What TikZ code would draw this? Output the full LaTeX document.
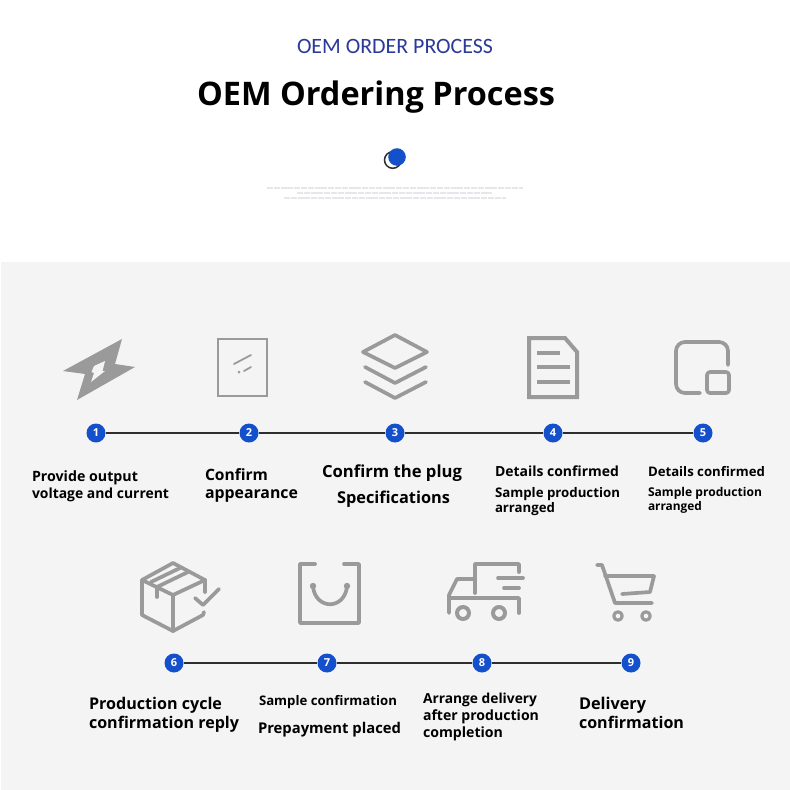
\documentclass[tikz,border=0pt]{standalone}
\usepackage{fontspec}
\setmainfont{Open Sans}
\newfontfamily\headfont{Carlito}
\newcommand{\lbl}[5]{\node[txtlbl] (#1) at (#2,#3) {\resizebox{#4pt}{!}{\textbf{#5}}};}
\tikzset{
  txtlbl/.style={anchor=base west,inner sep=0pt,outer sep=0pt,text=black},
  icon/.style={draw=icongray,line width=3.7pt,line join=round,line cap=round},
  num/.style={circle,fill=stepblue,minimum size=19pt,inner sep=0pt,text=white,font=\bfseries\fontsize{11}{11}\selectfont},
  link/.style={draw=linedark,line width=1.7pt},
  fine/.style={draw=finegray,line width=2.6pt,dash pattern=on 6pt off 0.8pt}
}
\definecolor{icongray}{HTML}{9A9A9A}
\definecolor{stepblue}{HTML}{1450CC}
\definecolor{linedark}{HTML}{2E2E2E}
\definecolor{panelgray}{HTML}{F4F4F4}
\definecolor{headblue}{HTML}{2B3A98}
\definecolor{finegray}{HTML}{E6E7EB}
\begin{document}
\begin{tikzpicture}[x=1pt,y=-1pt]
\useasboundingbox (0,0) rectangle (790,790);
\fill[white] (0,0) rectangle (790,790);
\fill[panelgray] (1,262) rectangle (790,790);
% header
\node[txtlbl,text=headblue] (head) at (297,53) {\resizebox{196pt}{!}{\headfont OEM ORDER PROCESS}};
\lbl{title}{197}{105}{358}{OEM Ordering Process}
\draw[linedark,line width=1.5pt] (392.8,160) circle (8.3);
\fill[stepblue] (397,157) circle (8.8);
\draw[fine] (267,188) -- (523,188);
\draw[fine] (297,193) -- (492,193);
\draw[fine] (284,198) -- (506,198);
% icon 1
\fill[icongray] (122,339) -- (115,364) -- (135,367) -- (77,400) -- (85,374) -- (63,371) -- cycle;
\fill[panelgray] (94,366) -- (105,361) -- (102.5,371) -- (105,371) -- (91,382) -- (94,373) -- (91.5,372) -- cycle;
% icon 2
\draw[icon,line cap=butt,line join=miter,line width=2.8pt] (218,339) rectangle (267,396);
\draw[icon,line width=1.8pt] (234,364) -- (251,355);
\draw[icon,line width=1.8pt] (244,371) -- (251,367);
\fill[icongray] (239,372) circle (1.5);
% icon 3
\draw[icon] (395,335) -- (427,352) -- (395,368) -- (363,352) -- cycle;
\draw[icon] (365,367) -- (395,383) -- (426,367);
\draw[icon] (365,382) -- (395,398) -- (426,382);
% icon 4
\draw[icon,line join=miter,line cap=butt,line width=4pt] (529,338) -- (565,338) -- (577,352) -- (577,397) -- (529,397) -- cycle;
\draw[icon,line cap=butt,line width=4.2pt] (537,353) -- (560,353);
\draw[icon,line cap=butt,line width=4.2pt] (537,367) -- (570,367);
\draw[icon,line cap=butt,line width=4.2pt] (537,382) -- (570,382);
% icon 5
\draw[icon,rounded corners=9pt] (728,365) -- (728,342) -- (676,342) -- (676,393) -- (700,393);
\draw[icon,rounded corners=3pt] (707,372) rectangle (729,393);
% icon 6
\draw[icon] (173,563) -- (205,580) -- (173,595) -- (142,580) -- cycle;
\draw[icon] (142,580) -- (142,615) -- (173,631) -- (203,615) -- (204,612);
\draw[icon] (173,595) -- (173,631);
\draw[icon] (205,580) -- (205,592);
\draw[icon] (157,587) -- (188,572);
\draw[icon] (151,582) -- (180,568);
\draw[icon] (157,587) -- (157,597);
\draw[icon] (195,598) -- (203,605) -- (219,589);
% icon 7
\draw[icon] (315,564) -- (300,564) -- (300,623) -- (359,623) -- (359,564) -- (344,564);
\draw[icon] (313,587) .. controls (316,610) and (344,610) .. (347,587);
\fill[icongray] (313,586) circle (3.2);
\fill[icongray] (347,586) circle (3.2);
% icon 8
\draw[icon] (475,593) -- (475,564) -- (519,564) -- (519,572);
\draw[icon] (475,579) -- (457,579) -- (449,595) -- (449,613);
\draw[icon] (449,598) -- (519,598) -- (519,613);
\draw[icon] (498,578) -- (523,578);
\draw[icon] (504,588) -- (519,588);
\draw[icon,line width=4pt,fill=panelgray] (463,613) circle (6);
\draw[icon,line width=4pt,fill=panelgray] (499,613) circle (6);
% icon 9
\draw[icon] (597,565) -- (602,565) -- (615,603) -- (652,603);
\draw[icon] (605,576) -- (654,576) -- (650,592) -- (622,594);
\draw[icon,line width=3.2pt] (618,616) circle (4.2);
\draw[icon,line width=3.2pt] (646,616) circle (4.2);
% steps
\node[num] (n1) at (96,433) {1};
\node[num] (n2) at (249,433) {2};
\node[num] (n3) at (395,433) {3};
\node[num] (n4) at (553,433) {4};
\node[num] (n5) at (703,433) {5};
\node[num] (n6) at (174,663) {6};
\node[num] (n7) at (327,663) {7};
\node[num] (n8) at (482,663) {8};
\node[num] (n9) at (631,663) {9};
\draw[link] (n1) -- (n2);
\draw[link] (n2) -- (n3);
\draw[link] (n3) -- (n4);
\draw[link] (n4) -- (n5);
\draw[link] (n6) -- (n7);
\draw[link] (n7) -- (n8);
\draw[link] (n8) -- (n9);
% labels
\lbl{a1}{32}{481}{106}{Provide output}
\lbl{a2}{32}{498}{137}{voltage and current}
\lbl{b1}{205}{480}{63}{Confirm}
\lbl{b2}{205}{498}{93}{appearance}
\lbl{c1}{322}{477}{140}{Confirm the plug}
\lbl{c2}{337}{503}{113}{Specifications}
\lbl{d1}{495}{476}{124}{Details confirmed}
\lbl{d2}{495}{497}{125}{Sample production}
\lbl{d3}{495}{512}{60}{arranged}
\lbl{e1}{648}{476}{117}{Details confirmed}
\lbl{e2}{648}{496}{114}{Sample production}
\lbl{e3}{648}{510}{54}{arranged}
\lbl{f1}{89}{709}{133}{Production cycle}
\lbl{f2}{89}{728}{150}{confirmation reply}
\lbl{g1}{259}{705}{138}{Sample confirmation}
\lbl{g2}{258}{733}{143}{Prepayment placed}
\lbl{h1}{423}{703}{114}{Arrange delivery}
\lbl{h2}{423}{720}{116}{after production}
\lbl{h3}{423}{737}{80}{completion}
\lbl{i1}{579}{709}{67}{Delivery}
\lbl{i2}{579}{728}{105}{confirmation}
\end{tikzpicture}
\end{document}
